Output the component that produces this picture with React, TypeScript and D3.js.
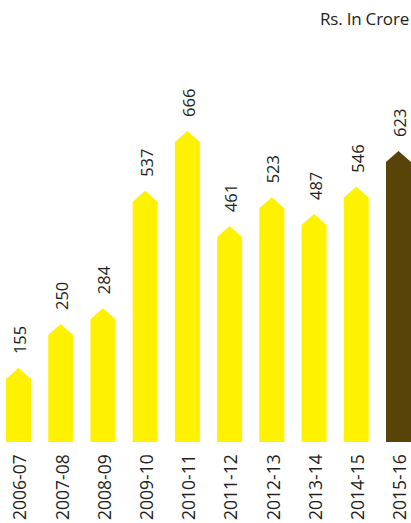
import React from "react";
import * as d3 from "d3";

const categories = ["2006-07", "2007-08", "2008-09", "2009-10", "2010-11", "2011-12", "2012-13", "2013-14", "2014-15", "2015-16"];
const values = [155, 250, 284, 537, 666, 461, 523, 487, 546, 623];
const highlight = [false, false, false, false, false, false, false, false, false, true];
const unitLabel = "Rs. In Crore";

const W = 411;
const H = 523;
const BASE = 442;
const TIP = 11;
const FONT = "'Open Sans', 'Noto Sans', sans-serif";

export default function App() {
  const x = d3.scaleBand<string>().domain(categories).range([6, 411]).paddingInner(0.408).paddingOuter(0);
  const y = d3.scaleLinear().domain([0, 700]).range([BASE - 2, BASE - 2 - 700 * 0.464]);
  const bw = x.bandwidth();

  return (
    <svg width={W} height={H} style={{ position: "absolute", left: 0, top: 0, display: "block" }}>
      <rect width={W} height={H} fill="#ffffff" />
      <text x={409} y={25} textAnchor="end" fontFamily={FONT} fontSize={17} fill="#231f20" letterSpacing={-0.2}>
        {unitLabel}
      </text>
      {categories.map((c, i) => {
        const x0 = x(c)!;
        const x1 = x0 + bw;
        const cx = x0 + bw / 2;
        const apex = y(values[i]);
        const path = d3.path();
        path.moveTo(x0, BASE);
        path.lineTo(x0, apex + TIP);
        path.lineTo(cx, apex);
        path.lineTo(x1, apex + TIP);
        path.lineTo(x1, BASE);
        path.closePath();
        return (
          <g key={c}>
            <path d={path.toString()} fill={highlight[i] ? "#584309" : "#fff200"} />
            <text
              transform={`translate(${cx + 1.5},${apex - 14}) rotate(-90)`}
              textAnchor="start"
              dy="0.36em"
              fontFamily={FONT}
              fontSize={16.5}
              fill="#231f20"
            >
              {values[i]}
            </text>
            <text
              transform={`translate(${cx + 1.5},${520}) rotate(-90)`}
              textAnchor="start"
              dy="0.36em"
              fontFamily={FONT}
              fontSize={17.5}
              fill="#231f20"
            >
              {c}
            </text>
          </g>
        );
      })}
    </svg>
  );
}
